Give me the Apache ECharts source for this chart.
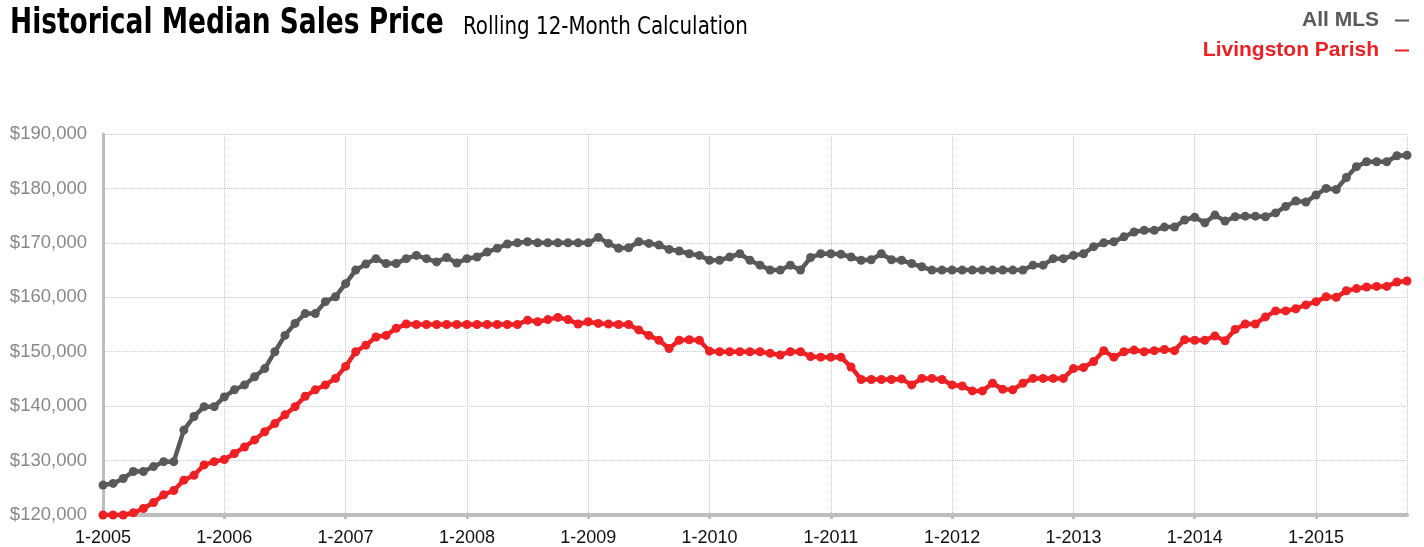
<!DOCTYPE html>
<html>
<head>
<meta charset="utf-8">
<script src="https://cdn.jsdelivr.net/npm/echarts@6/dist/echarts.min.js"></script>
<style>
  html, body { margin: 0; padding: 0; background: #fff; }
  #chart { width: 1424px; height: 547px; }
</style>
</head>
<body>
<div id="chart"></div>
<script>
// monthly points, 1-2005 .. 10-2015
const years = [2005, 2006, 2007, 2008, 2009, 2010, 2011, 2012, 2013, 2014, 2015]
const months = []
years.forEach(y => {
  for (let m = 1; m <= 12; m++) {
    if (y === 2015 && m > 10) break
    months.push(m + '-' + y)
  }
})

const allMls = [
  125500, 125800, 126700, 128000, 128000, 128900, 129800, 129800, 135600, 138100, 139900, 139900,
  141700, 143000, 143900, 145400, 146900, 150000, 153000, 155200, 157000, 157000, 159200, 160100,
  162500, 165000, 166100, 167100, 166200, 166200, 167100, 167700, 167100, 166500, 167300, 166300,
  167100, 167400, 168300, 169000, 169800, 170000, 170200, 170000, 170000, 170000, 170000, 170000,
  170000, 171000, 169900, 169000, 169100, 170200, 169900, 169600, 168800, 168500, 168000, 167700,
  166800, 166800, 167400, 168000, 166800, 165900, 165000, 165000, 165900, 165000, 167300, 168000,
  168000, 167900, 167400, 166800, 166900, 168000, 166900, 166800, 166200, 165600, 165000, 165000,
  165000, 165000, 165000, 165000, 165000, 165000, 165000, 165000, 165900, 165900, 167100, 167100,
  167700, 168000, 169300, 170000, 170200, 171100, 172000, 172300, 172300, 172900, 172900, 174200,
  174700, 173700, 175100, 174000, 174800, 174900, 174900, 174800, 175500, 176700, 177700, 177500,
  178800, 180000, 179800, 182000, 184000, 184900, 184900, 184900, 186000, 186100
]

const livingston = [
  120000, 120000, 120000, 120400, 121200, 122300, 123700, 124500, 126400, 127300, 129200, 129800,
  130200, 131300, 132500, 133800, 135300, 136800, 138400, 139900, 141800, 143000, 143900, 145100,
  147300, 150000, 151200, 152700, 153000, 154300, 155100, 155000, 155000, 155000, 155000, 155000,
  155000, 155000, 155000, 155000, 155000, 155000, 155800, 155500, 155900, 156300, 155900, 155100,
  155500, 155200, 155100, 155000, 155000, 154000, 153000, 152100, 150600, 152100, 152200, 152100,
  150100, 150000, 150000, 150000, 150000, 150000, 149700, 149400, 150000, 150000, 149100, 149000,
  149000, 149000, 147200, 144900, 144900, 144900, 144900, 145000, 143900, 145100, 145100, 144900,
  143900, 143700, 142800, 142800, 144200, 143100, 143000, 144200, 145100, 145100, 145100, 145100,
  146900, 147100, 148200, 150200, 149000, 150000, 150300, 150000, 150200, 150400, 150200, 152200,
  152100, 152100, 152900, 152000, 154100, 155100, 155100, 156400, 157500, 157500, 157900, 158600,
  159200, 160100, 160000, 161200, 161600, 161900, 162000, 162000, 162800, 163000
]

const grayColor = '#58595b'
const redColor = '#ee2024'

const chart = echarts.init(document.getElementById('chart'))

const option = {
  animation: false,
  // title + subtitle, squeezed horizontally to get the condensed look
  graphic: [
    {
      type: 'text',
      x: 10,
      y: 6,
      scaleX: 0.84,
      style: {
        text: 'Historical Median Sales Price',
        font: 'bold 35px "DejaVu Sans Condensed", sans-serif',
        fill: '#000',
        textVerticalAlign: 'top'
      }
    },
    {
      type: 'text',
      x: 463,
      y: 16,
      scaleX: 0.92,
      style: {
        text: 'Rolling 12-Month Calculation',
        font: '24px "DejaVu Sans Condensed", sans-serif',
        fill: '#000',
        textVerticalAlign: 'top'
      }
    }
  ],
  legend: {
    orient: 'vertical',
    right: 10,
    top: 5,
    align: 'right',
    itemGap: 9,
    itemWidth: 14,
    itemHeight: 2,
    icon: 'rect',
    selectedMode: false,
    textStyle: {
      fontFamily: '"Liberation Sans", Arial, sans-serif',
      fontWeight: 'bold',
      fontSize: 21,
      padding: [0, 11, 0, 0]
    },
    data: [
      { name: 'All MLS', textStyle: { color: grayColor } },
      { name: 'Livingston Parish', textStyle: { color: redColor } }
    ]
  },
  grid: {
    left: 103,
    right: 17,
    top: 134,
    bottom: 32
  },
  xAxis: {
    type: 'category',
    data: months,
    boundaryGap: false,
    axisLine: { lineStyle: { color: '#bdbdbd', width: 4 } },
    axisTick: {
      alignWithLabel: true,
      interval: (i) => i % 12 === 0,
      length: 4,
      lineStyle: { color: '#bdbdbd', width: 3 }
    },
    axisLabel: {
      interval: (i) => i % 12 === 0,
      color: '#111',
      fontFamily: '"Liberation Sans", Arial, sans-serif',
      fontSize: 18,
      margin: 14
    },
    splitLine: {
      show: true,
      interval: (i) => i % 12 === 0 || i === months.length - 1,
      lineStyle: { color: '#c8c8c8', type: 'dotted', width: 1 }
    }
  },
  yAxis: {
    type: 'value',
    min: 120000,
    max: 190000,
    interval: 10000,
    axisLine: { show: true, lineStyle: { color: '#bdbdbd', width: 3 } },
    axisTick: { show: false },
    axisLabel: {
      color: '#888',
      fontFamily: '"Liberation Sans", Arial, sans-serif',
      fontSize: 18.5,
      margin: 16,
      formatter: (v) => '$' + v.toLocaleString('en-US')
    },
    splitLine: {
      lineStyle: { color: '#c8c8c8', type: 'dotted', width: 1 }
    }
  },
  series: [
    {
      name: 'All MLS',
      type: 'line',
      data: allMls,
      symbol: 'circle',
      symbolSize: 9,
      showAllSymbol: true,
      lineStyle: { color: grayColor, width: 4.5 },
      itemStyle: { color: grayColor }
    },
    {
      name: 'Livingston Parish',
      type: 'line',
      data: livingston,
      symbol: 'circle',
      symbolSize: 9,
      showAllSymbol: true,
      lineStyle: { color: redColor, width: 4.5 },
      itemStyle: { color: redColor }
    }
  ]
}

chart.setOption(option)
</script>
</body>
</html>
